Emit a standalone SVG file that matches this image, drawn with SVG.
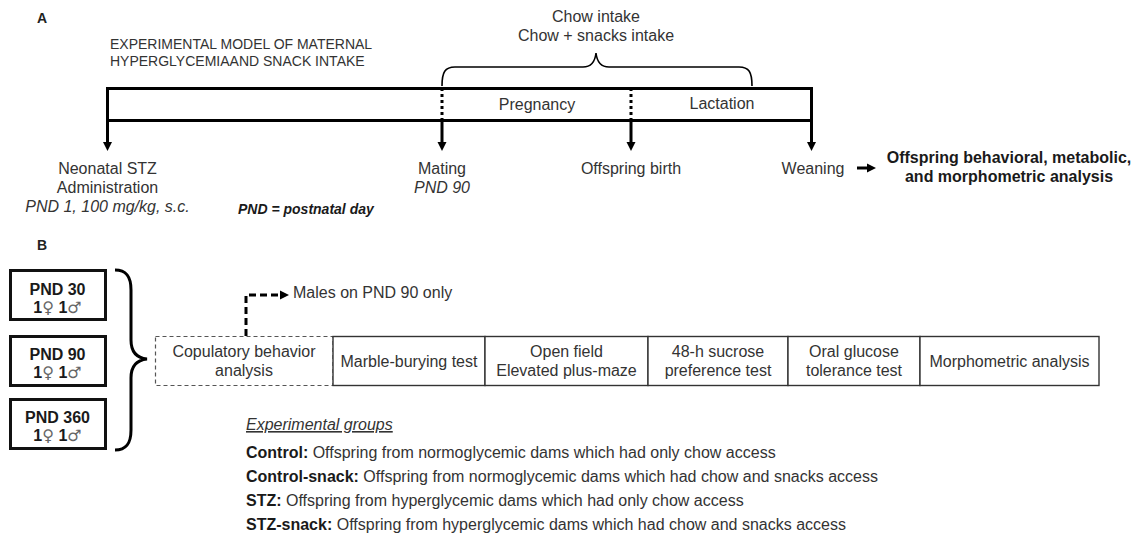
<svg xmlns="http://www.w3.org/2000/svg" width="1139" height="550" viewBox="0 0 1139 550">
<style>
text{font-family:"Liberation Sans",Arial,sans-serif;fill:#333;}
.t16{font-size:16px;}
.c{text-anchor:middle;}
.b{font-weight:bold;fill:#1a1a1a;}
.i{font-style:italic;}
.lbl{font-size:14px;font-weight:bold;fill:#222;}
.thick{fill:none;stroke:#000;stroke-width:3;}
.brace{fill:none;stroke:#000;stroke-width:1.6;}
.box{fill:#fff;stroke:#333;stroke-width:1.4;}
.dbox{fill:#fff;stroke:#555;stroke-width:1.2;stroke-dasharray:4 3;}
.pbox{fill:#fff;stroke:#111;stroke-width:3;}
.sym{font-family:"DejaVu Sans",sans-serif;fill:#666;font-weight:normal;}
</style>
<defs>
<path id="ahd" d="M-4.5,0 L4.5,0 L0,9 Z" fill="#000"/>
</defs>
<rect width="1139" height="550" fill="#fff"/>

<!-- Panel A -->
<text x="37" y="23" class="lbl">A</text>
<g id="title">
<text x="110" y="49" style="font-size:14px" fill="#3a3a3a">EXPERIMENTAL MODEL OF MATERNAL</text>
<text x="110" y="66" style="font-size:14px" fill="#3a3a3a">HYPERGLYCEMIAAND SNACK INTAKE</text>
</g>
<g id="intake">
<text x="596" y="22" class="t16 c">Chow intake</text>
<text x="596" y="41" class="t16 c">Chow + snacks intake</text>
<path class="brace" d="M442,86 C442,72 445,67 455,67 L583,67 C591,67 595,62 596,53 C597,62 601,67 609,67 L739,67 C749,67 752,72 752,86"/>
</g>
<g id="timeline">
<rect class="thick" x="107.5" y="88.5" width="704" height="32"/>
<text x="537" y="110" class="t16 c">Pregnancy</text>
<text x="722" y="109" class="t16 c">Lactation</text>
</g>
<g id="connectors">
<path class="thick" d="M442,88 V121 M631,88 V121" stroke-dasharray="3 3"/>
<path class="thick" d="M107.5,120 V144 M442,121 V144 M631,121 V144 M811.5,120 V144"/>
<use href="#ahd" x="107.5" y="142"/>
<use href="#ahd" x="442" y="142"/>
<use href="#ahd" x="631" y="142"/>
<use href="#ahd" x="811.5" y="142"/>
<path class="thick" d="M857,168 H869"/>
<path d="M867,163.5 L876,168 L867,172.5 Z" fill="#000"/>
<path class="thick" d="M246,336 V295 H281" stroke-dasharray="7 4"/>
<path d="M280,290.5 L289,295 L280,299.5 Z" fill="#000"/>
</g>
<g id="stz">
<text x="107.5" y="174" class="t16 c">Neonatal STZ</text>
<text x="107.5" y="193" class="t16 c">Administration</text>
<text x="107.5" y="212" class="t16 c i">PND 1, 100 mg/kg, s.c.</text>
</g>
<text x="238" y="214" class="i b" style="font-size:14px">PND = postnatal day</text>
<g id="mating">
<text x="442" y="174" class="t16 c">Mating</text>
<text x="442" y="193" class="t16 c i">PND 90</text>
</g>
<g id="birth"><text x="631" y="174" class="t16 c">Offspring birth</text></g>
<g id="weaning"><text x="813" y="174" class="t16 c">Weaning</text></g>
<g id="analysis">
<text x="1009" y="163" class="t16 c b">Offspring behavioral, metabolic,</text>
<text x="1009" y="182" class="t16 c b">and morphometric analysis</text>
</g>

<!-- Panel B -->
<text x="37" y="250" class="lbl">B</text>
<g id="pnd30">
<rect class="pbox" x="10.5" y="270.5" width="95" height="49"/>
<text x="57.5" y="295" class="t16 c b">PND 30</text>
<text x="57.5" y="313" class="t16 c b">1<tspan class="sym">♀</tspan> 1<tspan class="sym">♂</tspan></text>
</g>
<g id="pnd90">
<rect class="pbox" x="10.5" y="336.5" width="95" height="49"/>
<text x="57.5" y="360" class="t16 c b">PND 90</text>
<text x="57.5" y="378" class="t16 c b">1<tspan class="sym">♀</tspan> 1<tspan class="sym">♂</tspan></text>
</g>
<g id="pnd360">
<rect class="pbox" x="10.5" y="399.5" width="95" height="49"/>
<text x="57.5" y="423" class="t16 c b">PND 360</text>
<text x="57.5" y="441" class="t16 c b">1<tspan class="sym">♀</tspan> 1<tspan class="sym">♂</tspan></text>
</g>
<path id="bigbrace" class="thick" d="M115,270 C126,270 131,276 131,290 L131,340 C131,352 137,358 147,359 C137,360 131,366 131,378 L131,430 C131,444 126,450 115,450"/>

<g id="copulatory">
<rect class="dbox" x="155.5" y="336.5" width="177.5" height="49"/>
<text x="244" y="356.5" class="t16 c">Copulatory behavior</text>
<text x="244" y="375.5" class="t16 c">analysis</text>
</g>
<text x="293" y="298" class="t16">Males on PND 90 only</text>
<g id="marble">
<rect class="box" x="333" y="336.5" width="152" height="49"/>
<text x="409" y="366.5" class="t16 c">Marble-burying test</text>
</g>
<g id="openfield">
<rect class="box" x="485" y="336.5" width="163" height="49"/>
<text x="566.5" y="356.5" class="t16 c">Open field</text>
<text x="566.5" y="375.5" class="t16 c">Elevated plus-maze</text>
</g>
<g id="sucrose">
<rect class="box" x="648" y="336.5" width="140" height="49"/>
<text x="718" y="356.5" class="t16 c">48-h sucrose</text>
<text x="718" y="375.5" class="t16 c">preference test</text>
</g>
<g id="ogtt">
<rect class="box" x="788" y="336.5" width="132" height="49"/>
<text x="854" y="356.5" class="t16 c">Oral glucose</text>
<text x="854" y="375.5" class="t16 c">tolerance test</text>
</g>
<g id="morpho">
<rect class="box" x="920" y="336.5" width="179" height="49"/>
<text x="1009.5" y="366.5" class="t16 c">Morphometric analysis</text>
</g>

<g id="groups">
<text x="246" y="430" class="t16 i" text-decoration="underline">Experimental groups</text>
<text x="246" y="458" class="t16"><tspan class="b">Control:</tspan> Offspring from normoglycemic dams which had only chow access</text>
<text x="246" y="482" class="t16"><tspan class="b">Control-snack:</tspan> Offspring from normoglycemic dams which had chow and snacks access</text>
<text x="246" y="506" class="t16"><tspan class="b">STZ:</tspan> Offspring from hyperglycemic dams which had only chow access</text>
<text x="246" y="530" class="t16"><tspan class="b">STZ-snack:</tspan> Offspring from hyperglycemic dams which had chow and snacks access</text>
</g>
</svg>
